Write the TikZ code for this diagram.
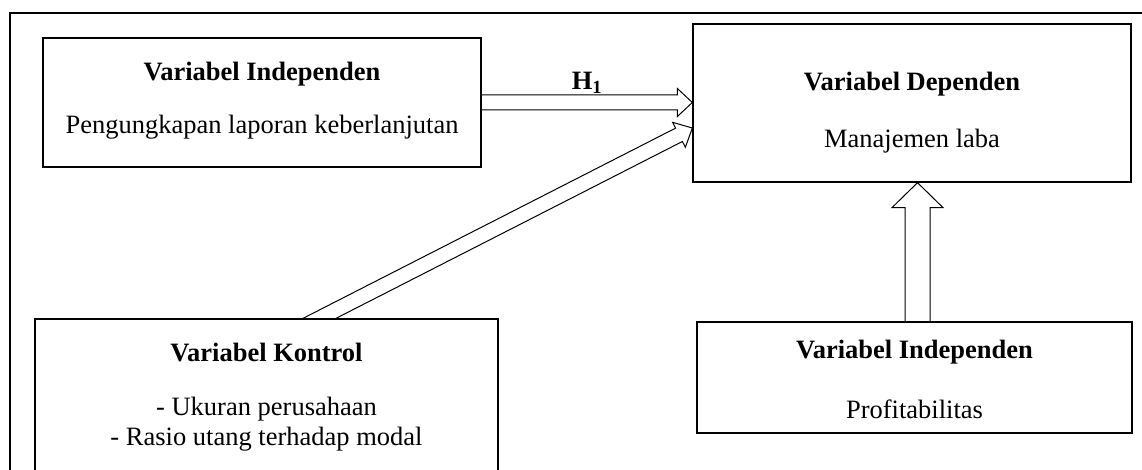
\documentclass[tikz,border=0pt]{standalone}
\usepackage{fontspec}
\setmainfont{Liberation Serif}
\usetikzlibrary{calc,backgrounds}

\tikzset{
  varbox/.style={draw, line width=1.3pt, fill=white, inner sep=0pt},
  vartitle/.style={font=\fontsize{26.5}{31}\selectfont\bfseries, inner sep=0pt},
  vartext/.style={font=\fontsize{26.5}{29.5}\selectfont, align=center, inner sep=0pt},
  arrowline/.style={draw, line width=1pt, line join=miter}
}

% hollow block arrow: start, tip, shaft half width, head half width, head length
\newcommand{\hollowarrow}[5]{%
  \coordinate (ha-base) at ($(#2)!#5!(#1)$);
  \draw[arrowline] ($(#1)!#3!90:(#2)$) -- ($(ha-base)!#3!90:(#2)$)
    -- ($(ha-base)!#4!90:(#2)$) -- (#2) -- ($(ha-base)!#4!-90:(#2)$)
    -- ($(ha-base)!#3!-90:(#2)$) -- ($(#1)!#3!-90:(#2)$);
}

\begin{document}
\begin{tikzpicture}[x=1pt, y=1pt]
  \clip (0,0) rectangle (1142,470);

  % boxes
  \node[varbox, minimum width=438pt, minimum height=129pt] (indep) at (262,367.5) {};
  \node[varbox, minimum width=438pt, minimum height=158pt] (dep) at (912,367) {};
  \node[varbox, minimum width=463pt, minimum height=152pt] (kontrol) at (266.5,75) {};
  \node[varbox, minimum width=435pt, minimum height=111pt] (profit) at (914.5,92.5) {};

  % texts
  \node[vartitle] (indepT) at ($(indep.north)+(0,-37)$) {Variabel Independen};
  \node[vartext] (indepB) at ($(indep.north)+(0,-90)$) {Pengungkapan laporan keberlanjutan};
  \node[vartitle] (depT) at ($(dep.north)+(0,-61)$) {Variabel Dependen};
  \node[vartext] (depB) at ($(dep.north)+(0,-118)$) {Manajemen laba};
  \node[vartitle] (kontrolT) at ($(kontrol.north)+(0,-34)$) {Variabel Kontrol};
  \node[vartext] (kontrolB) at ($(kontrol.north)+(0,-106)$) {- Ukuran perusahaan\\- Rasio utang terhadap modal};
  \node[vartitle] (profitT) at ($(profit.north)+(0,-31)$) {Variabel Independen};
  \node[vartext] (profitB) at ($(profit.north)+(0,-88)$) {Profitabilitas};

  % arrow points
  \coordinate (htip) at (dep.west |- indep.east);
  \coordinate (dtip) at ($(dep.west)+(0,-25)$);
  \coordinate (kmid) at ($(kontrol.north)+(53,0)$);
  \coordinate (kstart) at ($(dtip)!1.1!(kmid)$);
  \coordinate (vbot) at ($(profit.north)+(3,0)$);
  \coordinate (vtop) at (vbot |- dep.south);

  \node[vartitle] (hyp) at ($(indep.east)!0.5!(htip)+(0,20)$) {H\textsubscript{1}};

  \begin{scope}[on background layer]
    \draw[line width=1.2pt] (10,457) rectangle (1170,-30);
    \hollowarrow{indep.east}{htip}{7.5pt}{14pt}{15pt}
    \hollowarrow{kstart}{dtip}{7.5pt}{14pt}{15pt}
    \hollowarrow{vbot}{vtop}{12.5pt}{25.5pt}{25pt}
  \end{scope}
\end{tikzpicture}
\end{document}
